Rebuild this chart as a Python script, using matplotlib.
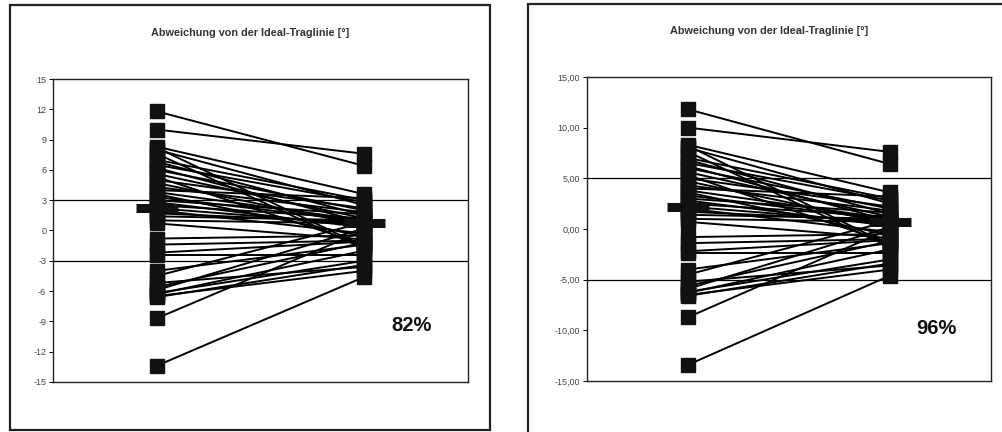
import matplotlib.pyplot as plt
from matplotlib.patches import Rectangle

# ------------------------------------------------------------
# Data: deviation from the ideal load line [deg], before / after
# (one pair per patient)
# ------------------------------------------------------------
pre = [11.8, 10.0, 8.3, 8.2, 8.0, 7.6, 7.0, 6.8, 6.5, 6.2, 6.0, 5.6,
       5.3, 5.0, 4.7, 4.3, 4.0, 3.8, 3.6, 3.3, 3.0, 2.8, 2.5, 2.2,
       2.0, 1.7, 1.4, 1.0, 0.7, -0.8, -1.4, -2.2, -2.4, -4.0, -4.5,
       -5.2, -5.6, -5.9, -6.2, -6.3, -6.5, -6.6, -8.7, -13.4]
post = [6.4, 7.6, 3.6, -1.6, 2.5, -1.8, 3.0, 1.5, 2.8, 0.8, 2.0, 1.2,
        -1.4, 2.2, 0.5, 1.8, 3.2, 1.0, -0.6, 0.9, 1.6, 0.3, 1.2, 0.6,
        -0.3, 0.8, 1.0, 0.7, -0.9, -0.5, -1.0, -1.1, -2.4, -1.4, 0.8,
        -3.6, -1.2, 0.2, -3.0, -2.0, -4.0, -3.4, 0.0, -4.6]
mean_pre = 2.2
mean_post = 0.7

title = "Abweichung von der Ideal-Traglinie [°]"

panels = [
    # axes rect, reference limit, ticks, percentage, title position
    dict(rect=[0.053, 0.116, 0.414, 0.701], limit=3,
         ticks=[15, 12, 9, 6, 3, 0, -3, -6, -9, -12, -15],
         labels=["15", "12", "9", "6", "3", "0", "-3", "-6", "-9", "-12", "-15"],
         pct="82%", pct_y=-9.4, title_x=0.2495, title_y=0.924),
    dict(rect=[0.586, 0.118, 0.403, 0.704], limit=5,
         ticks=[15, 10, 5, 0, -5, -10, -15],
         labels=["15,00", "10,00", "5,00", "0,00", "-5,00", "-10,00", "-15,00"],
         pct="96%", pct_y=-9.8, title_x=0.768, title_y=0.928),
]

plt.rcParams['font.family'] = ['Liberation Sans', 'DejaVu Sans']

fig = plt.figure(figsize=(10.02, 4.32), dpi=100)

# outer chart-area frames
fig.patches.append(Rectangle((0.010, 0.005), 0.479, 0.983, transform=fig.transFigure,
                             fill=False, lw=1.6, ec="#222222"))
fig.patches.append(Rectangle((0.527, -0.05), 0.6, 1.041, transform=fig.transFigure,
                             fill=False, lw=1.6, ec="#222222"))

for p in panels:
    ax = fig.add_axes(p["rect"])
    for a, b in zip(pre, post):
        ax.plot([1, 2], [a, b], color="black", lw=1.4, solid_capstyle="butt", zorder=2)
    ax.plot([1] * len(pre), pre, ls="none", marker="s", ms=9.5, color="#111111", zorder=3)
    ax.plot([2] * len(post), post, ls="none", marker="s", ms=9.5, color="#111111", zorder=3)
    ax.plot([1, 2], [mean_pre, mean_post], ls="none", marker="_", ms=30, mew=6.5,
            color="#111111", zorder=4)

    ax.axhline(p["limit"], color="black", lw=0.9, zorder=1)
    ax.axhline(-p["limit"], color="black", lw=0.9, zorder=1)

    ax.set_xlim(0.5, 2.5)
    ax.set_ylim(-15, 15)
    ax.set_xticks([])
    ax.set_yticks(p["ticks"])
    ax.set_yticklabels(p["labels"], fontsize=6.5, color="#444444")
    ax.tick_params(axis="y", direction="out", length=3, width=0.7, pad=2)
    for s in ax.spines.values():
        s.set_linewidth(1.0)
        s.set_color("#222222")

    ax.text(2.23, p["pct_y"], p["pct"], fontsize=14.5, fontweight="bold",
            ha="center", va="center", color="#111111")
    fig.text(p["title_x"], p["title_y"], title, fontsize=7.8, fontweight="bold",
             ha="center", va="center", color="#333333")

fig.savefig("out.png", dpi=100)
